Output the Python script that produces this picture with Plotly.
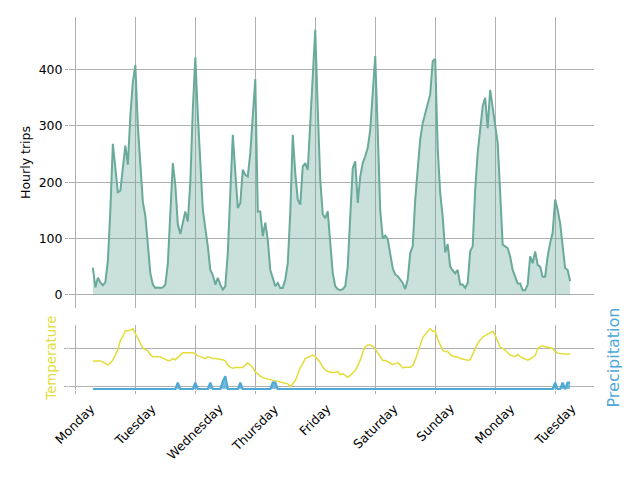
import pandas as pd
import plotly.graph_objects as go

# hourly values, Monday 07:00 through the following Tuesday 06:00
start = "2015-10-12 07:00"

day_labels = ["Monday", "Tuesday", "Wednesday", "Thursday", "Friday",
              "Saturday", "Sunday", "Monday", "Tuesday"]

trips = [
    48, 13, 30, 22, 17, 22, 60, 150, 268, 225, 182, 185, 228, 265, 231, 318, 378,
    408, 300, 240, 165, 140, 80, 38, 18, 12, 13, 12, 13, 18, 55, 135, 234, 195, 125, 108, 130, 148, 130, 200, 330,
    422, 320, 240, 151, 118, 86, 44, 35, 18, 30, 18, 9, 15, 74, 181, 284, 218, 154, 163, 222, 213, 210, 252, 317,
    383, 148, 148, 104, 128, 98, 44, 30, 15, 21, 12, 12, 27, 56, 145, 284, 216, 169, 160, 228, 234, 222, 311, 376,
    471, 329, 204, 143, 136, 148, 98, 38, 15, 10, 8, 10, 15, 50, 139, 225, 237, 163, 210, 234, 246, 261, 293, 352,
    424, 290, 150, 100, 105, 99, 73, 47, 36, 33, 27, 21, 10, 27, 74, 86, 169, 228, 276, 305, 323, 341, 356, 415,
    419, 260, 181, 139, 75, 90, 50, 43, 38, 44, 18, 18, 12, 21, 77, 86, 186, 252, 299, 335, 350, 296, 364, 335,
    305, 270, 181, 89, 86, 83, 68, 44, 32, 20, 20, 8, 8, 18, 68, 56, 77, 53, 50, 32, 32, 68, 92, 110,
    169, 151, 127, 80, 47, 44, 24,
]

temperature = [
    56.7, 56.7, 56.7, 56.7, 56.4, 56.1, 55.7, 56.2, 56.9, 58.2, 59.6, 62.0, 63.0, 64.4, 64.5, 64.6, 65.0,
    63.8, 62.4, 61.0, 60.0, 59.6, 59.3, 58.3, 57.8, 57.8, 57.8, 57.8, 57.4, 57.0, 56.8, 56.8, 57.3, 57.0, 57.5, 58.2, 58.8, 58.8, 58.8, 58.8, 58.8,
    58.5, 58.0, 57.8, 57.5, 57.3, 57.8, 57.5, 57.3, 57.3, 57.2, 57.1, 57.0, 56.7, 55.6, 55.1, 54.8, 55.0, 55.0, 55.0, 55.0, 55.6, 56.2, 55.6, 55.0,
    53.9, 53.3, 52.8, 52.4, 52.2, 52.1, 51.8, 51.7, 51.6, 51.4, 51.3, 51.2, 51.0, 50.8, 50.1, 50.9, 51.6, 53.3, 55.0, 56.0, 57.3, 57.6, 58.0, 58.2,
    57.8, 57.0, 56.3, 55.1, 54.4, 54.0, 53.8, 53.7, 53.8, 54.0, 53.2, 53.4, 53.0, 52.5, 53.0, 53.5, 54.2, 55.5, 56.9, 58.8, 60.3, 60.8, 60.8, 60.5,
    59.8, 58.8, 57.6, 56.8, 56.8, 56.6, 56.1, 55.8, 56.0, 56.2, 55.7, 54.9, 55.1, 55.1, 55.1, 55.5, 56.9, 58.8, 60.8, 62.7, 63.5, 64.3, 65.0, 64.3,
    64.4, 62.3, 60.8, 59.4, 59.1, 59.1, 58.3, 57.9, 57.8, 57.7, 57.3, 57.2, 57.1, 56.9, 57.0, 58.2, 59.8, 61.2, 62.0, 62.9, 63.2, 63.6, 64.0, 64.3,
    63.3, 61.5, 60.2, 59.9, 59.5, 58.8, 58.2, 58.0, 57.8, 58.4, 57.8, 57.5, 57.1, 56.9, 57.2, 57.5, 58.0, 59.8, 60.4, 60.5, 60.3, 60.1, 59.9, 59.9,
    59.1, 58.7, 58.6, 58.5, 58.5, 58.5, 58.5,
]

precipitation = [
    0, 0, 0, 0, 0, 0, 0, 0, 0, 0, 0, 0, 0, 0, 0, 0, 0,
    0, 0, 0, 0, 0, 0, 0, 0, 0, 0, 0, 0, 0, 0, 0, 0, 0, 0.01, 0, 0, 0, 0, 0, 0,
    0.01, 0, 0, 0, 0, 0, 0.01, 0, 0, 0, 0, 0.012, 0.02, 0, 0, 0, 0, 0, 0.01, 0, 0, 0, 0, 0,
    0, 0, 0, 0, 0, 0, 0, 0.01, 0.01, 0, 0, 0, 0, 0, 0, 0, 0, 0, 0, 0, 0, 0, 0, 0,
    0, 0, 0, 0, 0, 0, 0, 0, 0, 0, 0, 0, 0, 0, 0, 0, 0, 0, 0, 0, 0, 0, 0, 0,
    0, 0, 0, 0, 0, 0, 0, 0, 0, 0, 0, 0, 0, 0, 0, 0, 0, 0, 0, 0, 0, 0, 0, 0,
    0, 0, 0, 0, 0, 0, 0, 0, 0, 0, 0, 0, 0, 0, 0, 0, 0, 0, 0, 0, 0, 0, 0, 0,
    0, 0, 0, 0, 0, 0, 0, 0, 0, 0, 0, 0, 0, 0, 0, 0, 0, 0, 0, 0, 0, 0, 0, 0,
    0.01, 0, 0, 0.01, 0, 0.01, 0.01,
]

hours = pd.date_range(start, periods=len(trips), freq="h")
days = pd.date_range(hours[0].normalize(), periods=len(day_labels), freq="D")

TRIPS = "#6aaa9b"
YELLOW = "#e3dc3a"
BLUE = "#4fa8d6"
GRID = "#b0b0b0"
FONT = "DejaVu Sans"

x_range = ["2015-10-11 21:27", "2015-10-20 15:33"]

fig = go.Figure()
fig.add_trace(go.Scatter(
    x=hours, y=trips, mode="lines",
    line={"color": TRIPS, "width": 2},
    fill="tozeroy", fillcolor="rgba(106,170,155,0.36)",
    xaxis="x", yaxis="y", showlegend=False,
))
fig.add_trace(go.Scatter(
    x=hours, y=temperature, mode="lines",
    line={"color": YELLOW, "width": 1.5},
    xaxis="x2", yaxis="y2", showlegend=False,
))
fig.add_trace(go.Scatter(
    x=hours, y=precipitation, mode="lines",
    line={"color": BLUE, "width": 2.2},
    fill="tozeroy", fillcolor="rgba(79,168,214,0.75)",
    xaxis="x2", yaxis="y3", showlegend=False,
))

# rotated day names, centred under each tick like the original
for d, label in zip(days, day_labels):
    fig.add_annotation(
        x=d, y=0, xref="x2", yref="y2 domain",
        text=label, textangle=-45, showarrow=False,
        xanchor="center", yanchor="top", yshift=-8,
        font={"size": 12.5, "color": "black"},
    )

xax = {
    "range": x_range, "dtick": 86400000, "tick0": "2015-10-12",
    "showgrid": True, "gridcolor": GRID, "gridwidth": 1,
    "zeroline": False, "showline": False, "automargin": False,
    "showticklabels": False,
}
# the page body adds an 8px offset, so the figure is 8px smaller than the window
fig.update_layout(
    width=632, height=472,
    paper_bgcolor="white", plot_bgcolor="white",
    font={"family": FONT, "size": 12.5, "color": "black"},
    margin={"l": 61, "r": 46, "t": 9, "b": 90},
    xaxis={**xax, "domain": [0, 1], "anchor": "y"},
    yaxis={
        "domain": [0.22, 1], "range": [-23.5, 493.5],
        "tickvals": [0, 100, 200, 300, 400],
        "showgrid": True, "gridcolor": GRID, "zeroline": False,
        "ticks": "outside", "ticklen": 3, "tickcolor": GRID, "automargin": False,
        "title": {"text": "Hourly trips", "standoff": 5, "font": {"size": 12.5}},
    },
    xaxis2={**xax, "domain": [0, 1], "anchor": "y2", "matches": "x",
            "ticks": "outside", "ticklen": 3, "tickcolor": GRID},
    yaxis2={
        "domain": [0, 0.174], "anchor": "x2", "range": [49.23, 65.9],
        "tickvals": [50, 60], "showticklabels": False,
        "showgrid": True, "gridcolor": GRID, "zeroline": False,
        "ticks": "outside", "ticklen": 4, "tickcolor": GRID, "automargin": False,
        "title": {"text": "Temperature", "standoff": 4,
                  "font": {"size": 13.3, "color": YELLOW}},
    },
    yaxis3={
        "overlaying": "y2", "anchor": "x2", "side": "right",
        "range": [-0.0015, 0.1], "showgrid": False, "zeroline": False,
        "showticklabels": False, "automargin": False,
        "title": {"text": "Precipitation", "standoff": 13,
                  "font": {"size": 16, "color": BLUE}},
    },
)

fig.write_html("out.html")
